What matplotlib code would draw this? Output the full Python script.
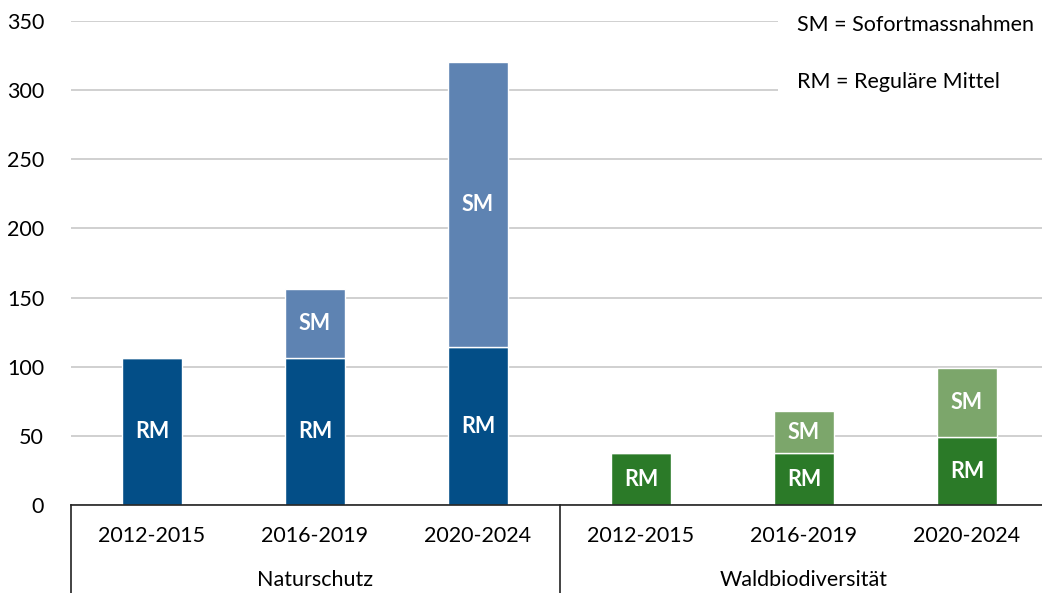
import matplotlib.pyplot as plt
from matplotlib.patches import Rectangle
from matplotlib.lines import Line2D

plt.rcParams['font.family'] = ['Lato', 'DejaVu Sans']

# data
periods = ['2012-2015', '2016-2019', '2020-2024', '2012-2015', '2016-2019', '2020-2024']
groups = ['Naturschutz', 'Waldbiodiversität']
rm_values = [106, 106, 114, 37.5, 37.5, 49]
sm_values = [0, 50, 206, 0, 30.5, 50]
rm_colors = ['#034e87', '#034e87', '#034e87', '#2b7a28', '#2b7a28', '#2b7a28']
sm_colors = ['#5e83b2', '#5e83b2', '#5e83b2', '#7ca66b', '#7ca66b', '#7ca66b']
y_ticks = [0, 50, 100, 150, 200, 250, 300, 350]

W, H = 1042, 593
FS = 15.5
fig = plt.figure(figsize=(W / 100, H / 100), dpi=100)
ax = fig.add_axes([70.5 / W, (H - 505) / H, 978 / W, 484 / H])

x = list(range(len(periods)))
ax.bar(x, rm_values, width=0.37, color=rm_colors, edgecolor='white', linewidth=1, zorder=3)
ax.bar(x, sm_values, width=0.37, bottom=rm_values, color=sm_colors,
       edgecolor='white', linewidth=1, zorder=3)

for i in x:
    ax.text(i, rm_values[i] / 2, 'RM', ha='center', va='center', color='white',
            fontsize=FS, fontweight='bold', zorder=4)
    if sm_values[i] > 0:
        ax.text(i, rm_values[i] + sm_values[i] / 2, 'SM', ha='center', va='center',
                color='white', fontsize=FS, fontweight='bold', zorder=4)

ax.set_xlim(-0.5, 5.5)
ax.set_ylim(0, 350)
ax.set_yticks(y_ticks)
ax.set_xticks([])
ax.tick_params(axis='y', length=0, labelsize=FS, pad=19)
ax.grid(axis='y', color='#c8c8c8', linewidth=1.2, zorder=0)
for s in ['top', 'right', 'left']:
    ax.spines[s].set_visible(False)
ax.spines['bottom'].set_color('#222222')
ax.spines['bottom'].set_linewidth(1.2)
ax.spines['bottom'].set_zorder(5)

# category and group labels below the axis
for i, p in enumerate(periods):
    xf = (70.5 + 81.5 + 163 * i) / W
    fig.text(xf, 1 - 536 / H, p, ha='center', va='center', fontsize=FS)
for j, g in enumerate(groups):
    xf = (70.5 + 244.5 + 489 * j) / W
    fig.text(xf, 1 - 580 / H, g, ha='center', va='center', fontsize=FS)
for xp in [70.5, 559.5]:
    fig.add_artist(Line2D([xp / W, xp / W], [0, (H - 505) / H], color='#222222', linewidth=1.2))

# legend text box in the upper right
fig.add_artist(Rectangle((778 / W, 1 - 105 / H), 1, 105 / H, transform=fig.transFigure,
                         facecolor='white', edgecolor='none', zorder=10))
fig.text(797 / W, 1 - 25 / H, 'SM = Sofortmassnahmen', ha='left', va='center', fontsize=FS, zorder=11)
fig.text(797 / W, 1 - 82 / H, 'RM = Reguläre Mittel', ha='left', va='center', fontsize=FS, zorder=11)

fig.savefig('out.png', dpi=100)
